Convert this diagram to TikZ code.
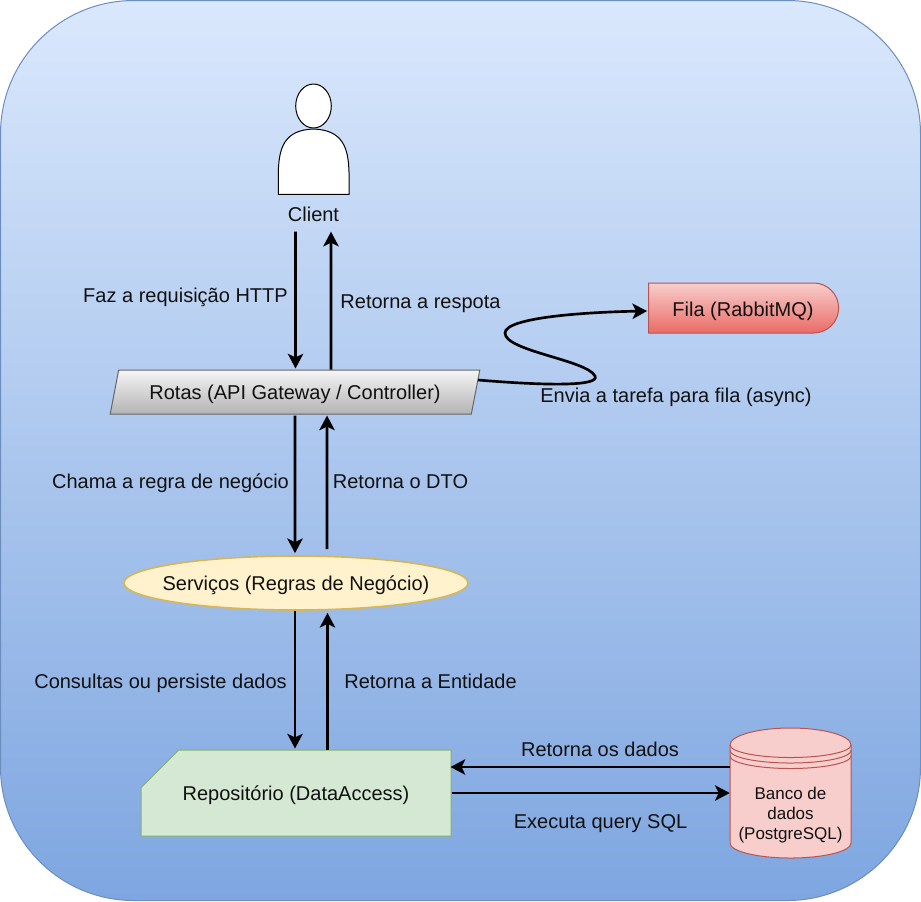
\documentclass[tikz,border=0pt]{standalone}
\usepackage{fontspec}
\setmainfont{Liberation Sans}
\usetikzlibrary{shapes.geometric,shapes.misc,arrows.meta,calc}
\definecolor{bgtop}{HTML}{DAE8FC}
\definecolor{bgbot}{HTML}{7EA6E0}
\definecolor{bgline}{HTML}{6C8EBF}
\definecolor{greytop}{HTML}{F5F5F5}
\definecolor{greybot}{HTML}{B3B3B3}
\definecolor{greyline}{HTML}{666666}
\definecolor{redtop}{HTML}{F8CECC}
\definecolor{redbot}{HTML}{EA6B66}
\definecolor{redline}{HTML}{B85450}
\definecolor{yelfill}{HTML}{FFF2CC}
\definecolor{yelline}{HTML}{D6B656}
\definecolor{grnfill}{HTML}{D5E8D4}
\definecolor{grnline}{HTML}{82B366}
\definecolor{inktext}{HTML}{111111}
\tikzset{
  x=0.75pt,y=-0.75pt,
  every node/.style={font=\fontsize{15}{18}\selectfont,text=inktext},
  border/.style={line width=0.75pt},
  flow/.style={draw=black,line width=2pt,-{Stealth[length=11pt,width=11.5pt,inset=2.7pt]}},
  lbl/.style={inner sep=0pt,anchor=base},
  gateway/.style={trapezium,trapezium stretches=true,trapezium left angle=64.5,trapezium right angle=115.5,
    minimum width=277.5pt,minimum height=33pt,inner sep=0pt,text height=11pt,text depth=0pt,draw=greyline,border,top color=greytop,bottom color=greybot},
  queue/.style={rounded rectangle,rounded rectangle left arc=none,minimum width=142.5pt,minimum height=37.5pt,inner sep=0pt,text height=12pt,text depth=0pt,
    draw=redline,border,top color=redtop,bottom color=redbot},
  service/.style={ellipse,minimum width=258pt,minimum height=40.5pt,inner sep=0pt,text height=11.5pt,text depth=0pt,draw=yelline,line width=1.2pt,fill=yelfill},
  repo/.style={chamfered rectangle,chamfered rectangle corners=north west,chamfered rectangle xsep=22.5pt,chamfered rectangle ysep=22.5pt,
    minimum width=232.5pt,minimum height=64.5pt,inner sep=0pt,text height=11.5pt,text depth=0pt,draw=grnline,border,fill=grnfill},
  dbtext/.style={align=center,inner sep=0pt,minimum width=90.75pt,minimum height=67.5pt,font=\fontsize{12.75}{15}\selectfont}
}
\begin{document}
\begin{tikzpicture}
\useasboundingbox (0,0) rectangle (921,901);
% background
\path[draw=bgline,border,top color=bgtop,bottom color=bgbot,rounded corners=100pt] (0.5,0.5) rectangle (920.5,900.5);
% person
\path[draw=black,fill=white,border] (278.3,194.3) -- (278.3,172) .. controls (279,148) and (284,130) .. (313.5,129)
  .. controls (343,130) and (348.3,148) .. (349,172) -- (349,194.3) -- cycle;
\node[ellipse,draw=black,fill=white,border,minimum width=26.7pt,minimum height=33pt,inner sep=0pt] (head) at (313.5,106) {};
\node[lbl] (client) at (313.5,221.7) {Client};
% database body
\path[draw=redline,fill=redtop,border] (730,745) -- (730,843) arc[start angle=180,end angle=360,x radius=60.5,y radius=-15] -- (851,745)
  arc[start angle=0,end angle=-180,x radius=60.5,y radius=17] -- cycle;
\path[draw=redline,border] (730,745) arc[start angle=180,end angle=360,x radius=60.5,y radius=-12.5]
  (730,750.5) arc[start angle=180,end angle=360,x radius=60.5,y radius=-12.5]
  (730,756) arc[start angle=180,end angle=360,x radius=60.5,y radius=-12.5];
\node[dbtext] (db) at (790.5,814.7) {Banco de\\dados\\(PostgreSQL)};
% boxes
\node[gateway] (rotas) at (295,392) {Rotas (API Gateway / Controller)};
\node[queue] (fila) at (743,308) {Fila (RabbitMQ)};
\node[service] (serv) at (296,583) {\makebox[0pt]{Serviços (Regras de Negócio)}};
\node[repo] (rep) at (296,793) {Repositório (DataAccess)};
% connectors
\draw[flow] ($(client.south)+(-18,9.5)$) -- ($(rotas.north)+(0.5,-1)$);
\draw[flow] ($(rotas.north)+(36,0)$) -- ($(client.south)+(17.5,9.5)$);
\draw[flow] ($(rotas.south)+(0,1)$) -- ($(serv.north)+(-1,-2)$);
\draw[flow] ($(serv.north)+(31,-6)$) -- ($(rotas.south)+(32,1)$);
\draw[flow] ($(serv.south)+(-1,0)$) -- ($(rep.north)+(-1,-1)$);
\draw[flow] ($(rep.north)+(31.5,0)$) -- ($(serv.south)+(31.5,2)$);
\draw[flow] ($(db.west)+(0,-47.7)$) -- ($(rep.east)+(-1,-26)$);
\draw[flow] (rep.east) -- ($(db.west)+(0,-21.7)$);
\draw[flow] ($(rotas.east)+(2,-12)$) .. controls (550,386) and (600,386) .. (595,376)
  .. controls (587,360) and (505,351) .. (505,333)
  .. controls (505,317) and (590,312) .. ($(fila.west)+(-1,3)$);
% labels
\node[lbl] (t1) at (185.5,302) {Faz a requisição HTTP};
\node[lbl] (t2) at (420.5,308) {Retorna a respota};
\node[lbl] (t3) at (676,402.5) {Envia a tarefa para fila (async)};
\node[lbl] (t4) at (170.5,488) {Chama a regra de negócio};
\node[lbl] (t5) at (400.5,488) {Retorna o DTO};
\node[lbl] (t6) at (160.5,688) {Consultas ou persiste dados};
\node[lbl] (t7) at (430.5,688) {Retorna a Entidade};
\node[lbl] (t8) at (600,756) {Retorna os dados};
\node[lbl] (t9) at (600.5,828) {Executa query SQL};
\end{tikzpicture}
\end{document}
